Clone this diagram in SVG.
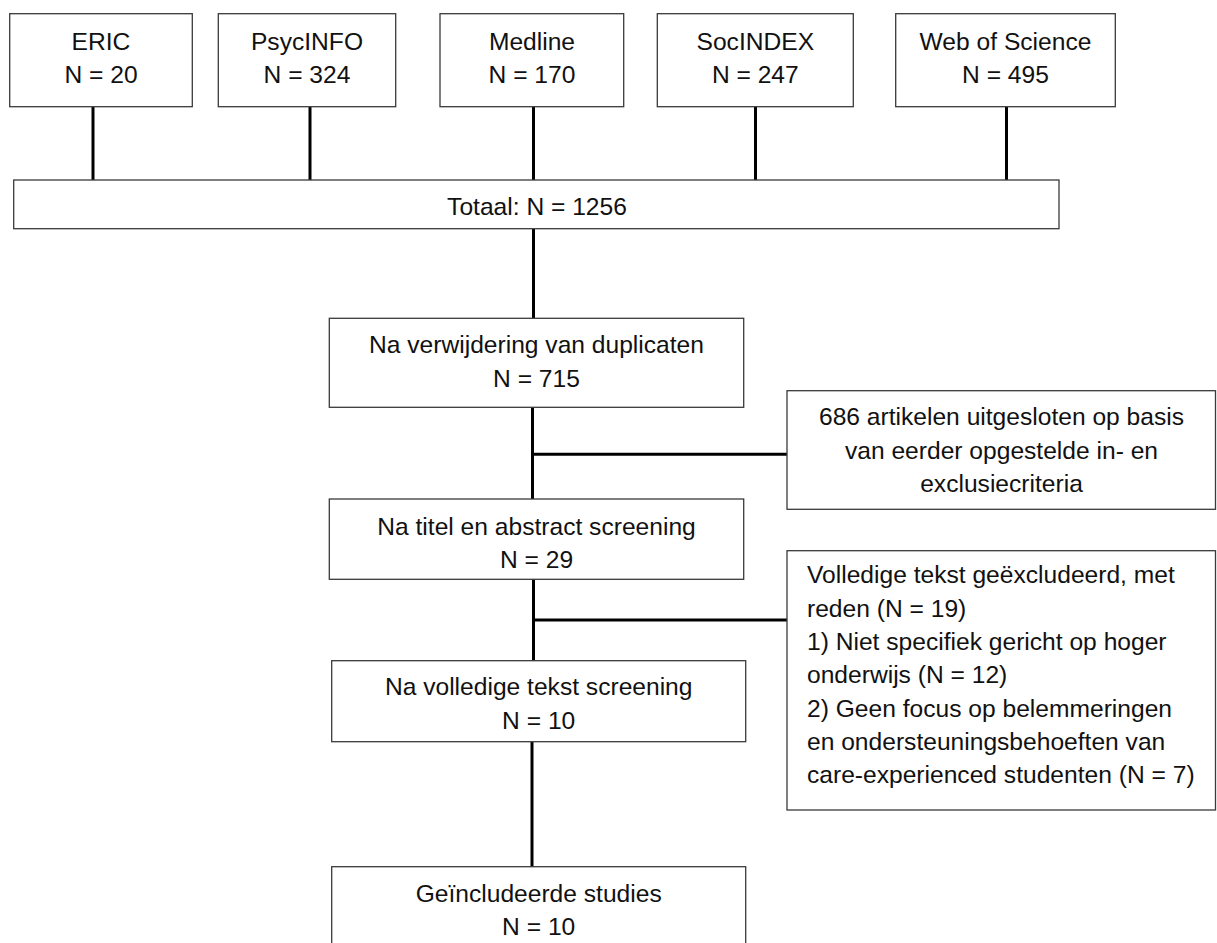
<svg xmlns="http://www.w3.org/2000/svg" width="1217" height="943" viewBox="0 0 1217 943">
<style>
.box{fill:#fff;stroke:#3a3a3a;stroke-width:1.3}
.t{font-family:"Liberation Sans",Arial,sans-serif;font-size:24.6px;fill:#111}
.c{text-anchor:middle}
.ln{stroke:#000;stroke-width:3;fill:none}
</style>
<rect width="1217" height="943" fill="#fff"/>
<g id="connectors">
<line class="ln" x1="93" y1="107" x2="93" y2="180"/>
<line class="ln" x1="310" y1="107" x2="310" y2="180"/>
<line class="ln" x1="533.5" y1="107" x2="533.5" y2="180"/>
<line class="ln" x1="755.5" y1="107" x2="755.5" y2="180"/>
<line class="ln" x1="1006.5" y1="107" x2="1006.5" y2="180"/>
<line class="ln" x1="533.5" y1="229" x2="533.5" y2="318"/>
<line class="ln" x1="532.5" y1="407" x2="532.5" y2="499"/>
<line class="ln" x1="531" y1="454.3" x2="787" y2="454.3"/>
<line class="ln" x1="533.5" y1="579" x2="533.5" y2="661"/>
<line class="ln" x1="532" y1="620" x2="787" y2="620"/>
<line class="ln" x1="532" y1="742" x2="532" y2="867"/>
</g>
<g id="eric">
<rect class="box" x="9.7" y="13.7" width="182.6" height="93"/>
<text class="t c" x="101" y="50">ERIC</text>
<text class="t c" x="101" y="83.3">N = 20</text>
</g>
<g id="psycinfo">
<rect class="box" x="218.3" y="13.7" width="177.4" height="93"/>
<text class="t c" x="307" y="50">PsycINFO</text>
<text class="t c" x="307" y="83.3">N = 324</text>
</g>
<g id="medline">
<rect class="box" x="440" y="13.7" width="183.7" height="93"/>
<text class="t c" x="532" y="50">Medline</text>
<text class="t c" x="532" y="83.3">N = 170</text>
</g>
<g id="socindex">
<rect class="box" x="657.3" y="13.7" width="196" height="93"/>
<text class="t c" x="755.3" y="50">SocINDEX</text>
<text class="t c" x="755.3" y="83.3">N = 247</text>
</g>
<g id="wos">
<rect class="box" x="895.7" y="13.7" width="219.6" height="93"/>
<text class="t c" x="1005.5" y="50">Web of Science</text>
<text class="t c" x="1005.5" y="83.3">N = 495</text>
</g>
<g id="totaal">
<rect class="box" x="13.7" y="180" width="1045.3" height="48.7"/>
<text class="t c" x="537" y="215">Totaal: N = 1256</text>
</g>
<g id="duplicaten">
<rect class="box" x="329.3" y="318.3" width="414.4" height="89"/>
<text class="t c" x="536.5" y="353.3">Na verwijdering van duplicaten</text>
<text class="t c" x="536.5" y="387.3">N = 715</text>
</g>
<g id="uitgesloten">
<rect class="box" x="787" y="390.7" width="428.5" height="118.6"/>
<text class="t c" x="1001.5" y="425">686 artikelen uitgesloten op basis</text>
<text class="t c" x="1001.5" y="458.5">van eerder opgestelde in- en</text>
<text class="t c" x="1001.5" y="491.7">exclusiecriteria</text>
</g>
<g id="abstract">
<rect class="box" x="329.3" y="499" width="414.4" height="80.3"/>
<text class="t c" x="536.5" y="535">Na titel en abstract screening</text>
<text class="t c" x="536.5" y="568.3">N = 29</text>
</g>
<g id="geexcludeerd">
<rect class="box" x="787" y="550.7" width="428.5" height="259.3"/>
<text class="t" x="807" y="583.3">Volledige tekst geëxcludeerd, met</text>
<text class="t" x="807" y="616.6">reden (N = 19)</text>
<text class="t" x="807" y="649.9">1) Niet specifiek gericht op hoger</text>
<text class="t" x="807" y="683.2">onderwijs (N = 12)</text>
<text class="t" x="807" y="716.5">2) Geen focus op belemmeringen</text>
<text class="t" x="807" y="749.8">en ondersteuningsbehoeften van</text>
<text class="t" x="807" y="783.1">care-experienced studenten (N = 7)</text>
</g>
<g id="volledig">
<rect class="box" x="331.7" y="660.7" width="414" height="81"/>
<text class="t c" x="538.7" y="695">Na volledige tekst screening</text>
<text class="t c" x="538.7" y="729">N = 10</text>
</g>
<g id="geincludeerd">
<rect class="box" x="331.7" y="866.7" width="414" height="100"/>
<text class="t c" x="538.7" y="901.7">Geïncludeerde studies</text>
<text class="t c" x="538.7" y="935">N = 10</text>
</g>
</svg>
